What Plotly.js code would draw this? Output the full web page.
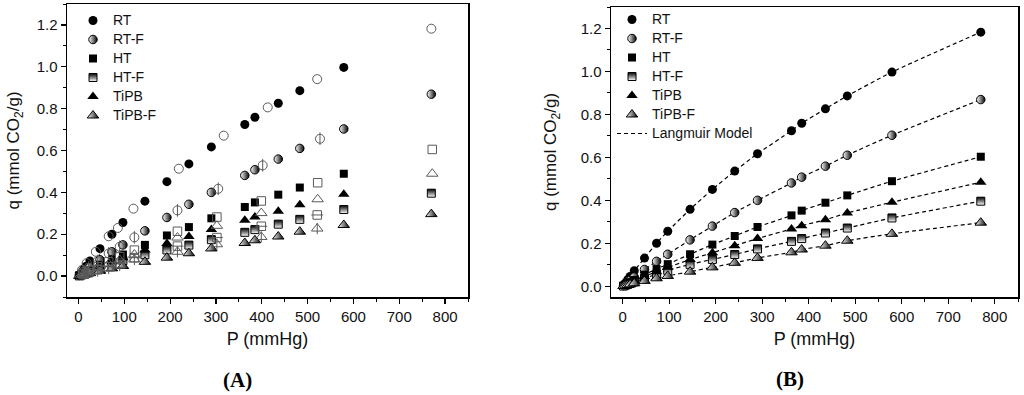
<!DOCTYPE html>
<html>
<head>
<meta charset="utf-8">
<script src="https://cdn.plot.ly/plotly-3.0.1.min.js"></script>
<style>html,body{margin:0;padding:0;background:#fff}#chart{width:1024px;height:395px}</style>
</head>
<body>
<div id="chart"></div>
<script>
// ---------- data ----------
const seriesNames = ["RT", "RT-F", "HT", "HT-F", "TiPB", "TiPB-F"];
const xTicks = [0, 100, 200, 300, 400, 500, 600, 700, 800];
const yTicks = [0.0, 0.2, 0.4, 0.6, 0.8, 1.0, 1.2];

// adsorption branch (shared pressures, mmHg)
const pAds = [2, 6, 11, 16, 25, 47, 73, 97, 145, 193, 241, 290, 363, 385, 436, 483, 579, 770];
const qRT    = [0.005, 0.016, 0.031, 0.046, 0.072, 0.131, 0.200, 0.256, 0.358, 0.451, 0.536, 0.617, 0.724, 0.759, 0.826, 0.886, 0.997, 1.183];
const qRTF   = [0.003, 0.010, 0.018, 0.027, 0.043, 0.078, 0.116, 0.149, 0.216, 0.280, 0.343, 0.400, 0.481, 0.508, 0.559, 0.610, 0.703, 0.869];
const qHT    = [0.002, 0.007, 0.013, 0.019, 0.029, 0.054, 0.080, 0.103, 0.149, 0.194, 0.234, 0.276, 0.330, 0.352, 0.389, 0.423, 0.489, 0.603];
const qHTF   = [0.001, 0.005, 0.009, 0.013, 0.020, 0.037, 0.056, 0.074, 0.102, 0.125, 0.148, 0.174, 0.209, 0.222, 0.248, 0.271, 0.318, 0.396];
const qTiPB  = [0.002, 0.006, 0.011, 0.016, 0.025, 0.046, 0.068, 0.088, 0.124, 0.156, 0.189, 0.222, 0.267, 0.282, 0.310, 0.341, 0.391, 0.484];
const qTiPBF = [0.001, 0.003, 0.006, 0.009, 0.014, 0.025, 0.037, 0.048, 0.068, 0.088, 0.109, 0.132, 0.158, 0.171, 0.189, 0.212, 0.244, 0.296];

// desorption branch (panel A, open symbols)
const pDesRT   = [8, 18, 38, 66, 86, 120, 219, 317, 413, 521, 770];
const qDesRT   = [0.030, 0.062, 0.116, 0.190, 0.230, 0.322, 0.513, 0.671, 0.806, 0.941, 1.182];
const pDesRTF  = [10, 22, 42, 66, 90, 122, 216, 305, 402, 527];
const qDesRTF  = [0.020, 0.040, 0.072, 0.108, 0.140, 0.185, 0.314, 0.417, 0.529, 0.656];
const pDesHT   = [10, 22, 42, 66, 90, 122, 216, 302, 399, 522, 772];
const qDesHT   = [0.012, 0.025, 0.045, 0.068, 0.092, 0.124, 0.214, 0.282, 0.359, 0.446, 0.605];
const qDesTiPB = [0.010, 0.021, 0.038, 0.058, 0.077, 0.103, 0.184, 0.240, 0.301, 0.367, 0.489];
const pDesF    = [10, 22, 42, 66, 90, 122, 216, 302, 399, 521];
const qDesHTF  = [0.008, 0.016, 0.030, 0.045, 0.062, 0.088, 0.143, 0.184, 0.238, 0.292];
const qDesTiPBF= [0.006, 0.013, 0.024, 0.036, 0.050, 0.079, 0.116, 0.152, 0.187, 0.227];

// ---------- styling ----------
const FONT = "Liberation Sans, Arial, Helvetica, sans-serif";
const BLK = "#000000", GRY = "#5a5a5a";
const symA = {
  "RT":     {symbol: "circle", size: 9, color: BLK},
  "RT-F":   {symbol: "circle", size: 8.5, color: "#ffffff", gradient: {type: "horizontal", color: BLK}, line: {color: BLK, width: 1}},
  "HT":     {symbol: "square", size: 8, color: BLK},
  "HT-F":   {symbol: "square", size: 8, color: BLK, gradient: {type: "vertical", color: "#ffffff"}, line: {color: BLK, width: 1}},
  "TiPB":   {symbol: "triangle-up", size: 10, color: BLK},
  "TiPB-F": {symbol: "triangle-up", size: 10, color: "#ffffff", gradient: {type: "horizontal", color: BLK}, line: {color: BLK, width: 1}}
};
const adsQ = {"RT": qRT, "RT-F": qRTF, "HT": qHT, "HT-F": qHTF, "TiPB": qTiPB, "TiPB-F": qTiPBF};
const lbl = n => '<span style="font-size:14px">' + n + '</span>';

const traces = [];
// Panel A adsorption (filled / half-filled); RT, HT, TiPB shown up to 579 mmHg
seriesNames.forEach(n => {
  const full = n.endsWith("-F");
  const xs = full ? pAds : pAds.slice(0, -1);
  const ys = full ? adsQ[n] : adsQ[n].slice(0, -1);
  traces.push({x: xs, y: ys, type: "scatter", mode: "markers", name: lbl(n),
    xaxis: "x", yaxis: "y", legend: "legend", marker: Object.assign({}, symA[n]), hoverinfo: "x+y"});
});
// Panel A desorption (open symbols)
const openMk = (sym, size) => ({symbol: sym, size: size, color: GRY, line: {color: GRY, width: 1}});
const desTr = [
  [pDesRT, qDesRT, "circle-open", 9],
  [pDesRTF, qDesRTF, "circle-open", 9], [pDesRTF, qDesRTF, "line-ns-open", 9],
  [pDesHT, qDesHT, "square-open", 8.5],
  [pDesF, qDesHTF, "square-open", 8.5], [pDesF, qDesHTF, "line-ew-open", 8.5],
  [pDesHT, qDesTiPB, "triangle-up-open", 10],
  [pDesF, qDesTiPBF, "triangle-up-open", 10], [pDesF, qDesTiPBF, "line-ns-open", 8]
];
desTr.forEach(d => traces.push({x: d[0], y: d[1], type: "scatter", mode: "markers", showlegend: false,
  xaxis: "x", yaxis: "y", marker: openMk(d[2], d[3]), hoverinfo: "x+y"}));

// Panel B: Langmuir model dashed lines through the adsorption data
seriesNames.forEach((n, i) => {
  traces.push({x: pAds, y: adsQ[n], type: "scatter", mode: "lines", name: lbl("Langmuir Model"),
    showlegend: i === 0, legend: "legend2", legendrank: 1000,
    xaxis: "x2", yaxis: "y2", line: {color: BLK, width: 1.2, dash: "4px,3px", shape: "spline", smoothing: 0.6}, hoverinfo: "skip"});
});
// Panel B markers
seriesNames.forEach((n, i) => {
  traces.push({x: pAds, y: adsQ[n], type: "scatter", mode: "markers", name: lbl(n),
    legend: "legend2", legendrank: i + 1,
    xaxis: "x2", yaxis: "y2", marker: Object.assign({}, symA[n]), hoverinfo: "x+y"});
});

const axisX = (dom, anchor) => ({
  domain: dom, anchor: anchor, range: [-25, 850], tickvals: xTicks,
  showline: true, linecolor: BLK, linewidth: 1.5, mirror: true, showgrid: false, zeroline: false,
  ticks: "outside", ticklen: 5, tickwidth: 1.2, tickcolor: BLK,
  minor: {ticks: "outside", ticklen: 3, tickwidth: 1, tickcolor: BLK, dtick: 50, tick0: 0, showgrid: false},
  tickfont: {family: FONT, size: 15, color: "#111"},
  title: {text: "P (mmHg)", font: {family: FONT, size: 18, color: "#111"}, standoff: 9},
  automargin: false, fixedrange: true
});
const axisY = (dom, anchor, rng, so) => ({
  domain: dom, anchor: anchor, range: rng, tickvals: yTicks, tickformat: ".1f",
  showline: true, linecolor: BLK, linewidth: 1.5, mirror: true, showgrid: false, zeroline: false,
  ticks: "outside", ticklen: 5, tickwidth: 1.2, tickcolor: BLK,
  minor: {ticks: "outside", ticklen: 3, tickwidth: 1, tickcolor: BLK, dtick: 0.1, tick0: 0, showgrid: false},
  tickfont: {family: FONT, size: 15, color: "#111"},
  title: {text: "q (mmol CO<sub>2</sub>/g)", font: {family: FONT, size: 17, color: "#111"}, standoff: so},
  automargin: false, fixedrange: true
});

const legendBase = {
  xanchor: "left", yanchor: "top", bgcolor: "rgba(0,0,0,0)", borderwidth: 0,
  font: {family: FONT, size: 12, color: "#111"}, itemclick: false, itemdoubleclick: false,
  tracegroupgap: 0, traceorder: "normal"
};

const layout = {
  width: 1024, height: 395,
  margin: {l: 0, r: 0, t: 0, b: 0},
  paper_bgcolor: "#ffffff", plot_bgcolor: "#ffffff",
  showlegend: true,
  xaxis:  axisX([67 / 1024, 468 / 1024], "y"),
  yaxis:  axisY([1 - 297 / 395, 1 - 4 / 395], "x", [-0.1, 1.3], 12),
  xaxis2: axisX([611 / 1024, 1018 / 1024], "y2"),
  yaxis2: axisY([1 - 297 / 395, 1 - 7 / 395], "x2", [-0.05, 1.3], 19),
  legend:  Object.assign({}, legendBase, {x: 73 / 1024, y: 1 - 6 / 395}),
  legend2: Object.assign({}, legendBase, {x: 612 / 1024, y: 1 - 5 / 395}),
  annotations: [
    {text: "<b>(A)</b>", xref: "paper", yref: "paper", x: 237 / 1024, y: 1 - 380 / 395,
     xanchor: "center", yanchor: "middle", showarrow: false,
     font: {family: "Liberation Serif, Times New Roman, serif", size: 21, color: "#000"}},
    {text: "<b>(B)</b>", xref: "paper", yref: "paper", x: 790 / 1024, y: 1 - 379 / 395,
     xanchor: "center", yanchor: "middle", showarrow: false,
     font: {family: "Liberation Serif, Times New Roman, serif", size: 21, color: "#000"}}
  ]
};

Plotly.newPlot("chart", traces, layout, {displayModeBar: false, staticPlot: true});
</script>
</body>
</html>
